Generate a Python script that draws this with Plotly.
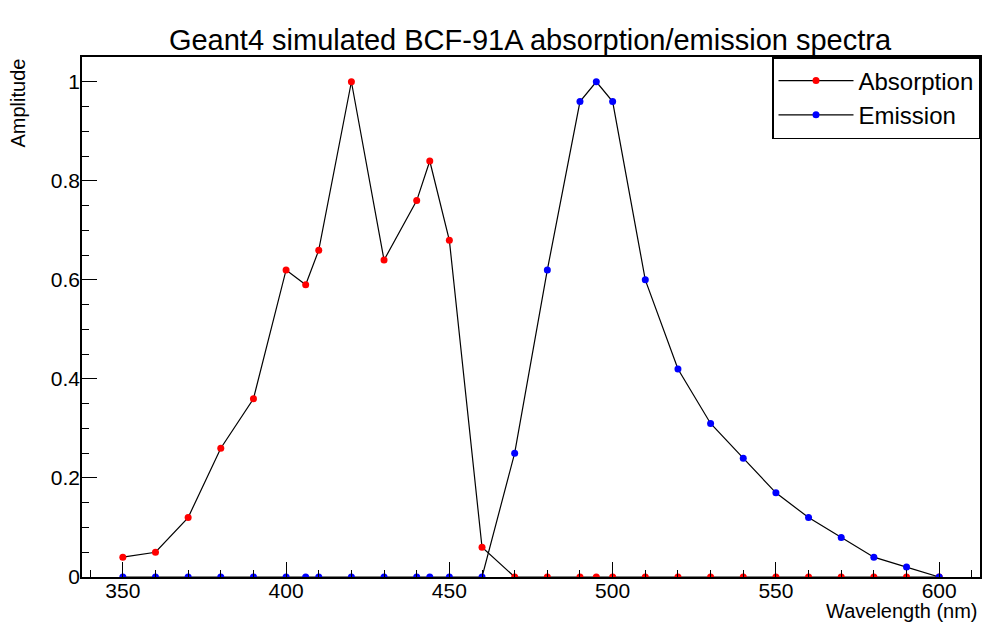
import plotly.graph_objects as go

wavelength = [350, 360, 370, 380, 390, 400, 406, 410, 420, 430, 440, 444, 450, 460,
              470, 480, 490, 495, 500, 510, 520, 530, 540, 550, 560, 570, 580, 590, 600]
absorption = [0.04, 0.05, 0.12, 0.26, 0.36, 0.62, 0.59, 0.66, 1.0, 0.64, 0.76, 0.84, 0.68, 0.06,
              0, 0, 0, 0, 0, 0, 0, 0, 0, 0, 0, 0, 0, 0, 0]
emission = [0, 0, 0, 0, 0, 0, 0, 0, 0, 0, 0, 0, 0, 0,
            0.25, 0.62, 0.96, 1.0, 0.96, 0.6, 0.42, 0.31, 0.24, 0.17, 0.12, 0.08, 0.04, 0.02, 0]

FONT = "Liberation Sans, Arial, Helvetica, sans-serif"

fig = go.Figure()
fig.add_trace(go.Scatter(x=wavelength, y=absorption, mode="lines+markers", name="Absorption",
                         line=dict(color="black", width=1.2),
                         marker=dict(color="red", size=7)))
fig.add_trace(go.Scatter(x=wavelength, y=emission, mode="lines+markers", name="Emission",
                         line=dict(color="black", width=1.2),
                         marker=dict(color="blue", size=7)))

fig.update_layout(
    width=982, height=628,
    margin=dict(l=82, r=2, t=57, b=51, autoexpand=False),
    paper_bgcolor="white", plot_bgcolor="white",
    font=dict(family=FONT, color="black", size=18),
    title=dict(text="Geant4 simulated BCF-91A absorption/emission spectra",
               x=530 / 982, xanchor="center", y=1 - 40 / 628, yanchor="middle",
               font=dict(size=29, family=FONT, color="black")),
    showlegend=True,
    legend=dict(x=1, y=1, xanchor="right", yanchor="top",
                bordercolor="black", borderwidth=1.5, bgcolor="white",
                font=dict(size=24, family=FONT), itemwidth=75,
                tracegroupgap=0),
)
fig.update_xaxes(range=[337.5, 612.5], showgrid=False, zeroline=False,
                 showline=True, linecolor="black", linewidth=1.5, mirror=True,
                 ticks="inside", ticklen=15, tickwidth=1.2, tickcolor="black",
                 tick0=350, dtick=50, ticklabelstandoff=-6,
                 minor=dict(ticks="inside", ticklen=7, tickwidth=1.2, tickcolor="black", dtick=10),
                 tickfont=dict(size=21, family=FONT))
fig.update_yaxes(range=[0, 1.05], showgrid=False, zeroline=False,
                 showline=True, linecolor="black", linewidth=1.5, mirror=True,
                 ticks="inside", ticklen=15, tickwidth=1.2, tickcolor="black",
                 tick0=0, dtick=0.2, ticklabelstandoff=-4,
                 minor=dict(ticks="inside", ticklen=7, tickwidth=1.2, tickcolor="black", dtick=0.05),
                 tickfont=dict(size=21, family=FONT))

fig.add_annotation(text="Wavelength (nm)", xref="paper", yref="paper",
                   x=1, y=-34 / 520, xanchor="right", yanchor="middle",
                   showarrow=False, font=dict(size=20, family=FONT))
fig.add_annotation(text="Amplitude", xref="paper", yref="paper",
                   x=-65 / 898, y=1, xanchor="center", yanchor="top", textangle=-90,
                   showarrow=False, font=dict(size=20, family=FONT))

fig.write_html("out.html", config={"displayModeBar": False},
               post_script="document.body.style.margin='0px';")
